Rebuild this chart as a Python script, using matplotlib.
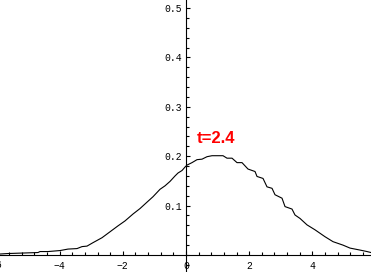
import matplotlib
matplotlib.use("Agg")
import matplotlib.pyplot as plt
from matplotlib.ticker import MultipleLocator, FixedLocator

# curve
xs = [-5.886, -5.633, -4.684, -4.620, -4.367, -3.987, -3.734, -3.449, -3.291, -3.133,
      -2.943, -2.658, -2.405, -2.152, -1.930, -1.677, -1.456, -1.234, -1.044, -0.823,
      -0.665, -0.506, -0.348, -0.253, -0.127, -0.032, 0.032, 0.190, 0.348, 0.506,
      0.665, 0.823, 1.013, 1.171, 1.297, 1.456, 1.614, 1.772, 1.962, 2.184,
      2.247, 2.437, 2.563, 2.722, 2.816, 3.038, 3.133, 3.354, 3.449, 3.608,
      3.829, 4.082, 4.399, 4.652, 4.968, 5.190, 5.506, 5.728, 5.854]
ys = [0.002, 0.003, 0.005, 0.007, 0.007, 0.009, 0.012, 0.013, 0.017, 0.018,
      0.025, 0.035, 0.047, 0.059, 0.069, 0.083, 0.094, 0.107, 0.118, 0.133,
      0.140, 0.149, 0.160, 0.166, 0.171, 0.178, 0.182, 0.187, 0.193, 0.194,
      0.199, 0.201, 0.201, 0.201, 0.196, 0.196, 0.187, 0.187, 0.174, 0.169,
      0.159, 0.155, 0.138, 0.135, 0.122, 0.115, 0.098, 0.093, 0.081, 0.074,
      0.061, 0.051, 0.037, 0.027, 0.020, 0.014, 0.010, 0.007, 0.005]

x_ticks = [-4, -2, 0, 2, 4]
x_labels = ["\u22124", "\u22122", "0", "2", "4"]
y_ticks = [0.1, 0.2, 0.3, 0.4, 0.5]
y_labels = ["0.1", "0.2", "0.3", "0.4", "0.5"]
label = "t=2.4"

mono = "Liberation Mono"

fig = plt.figure(figsize=(3.71, 2.72), dpi=100)
ax = fig.add_axes([0, 0, 1, 1])
ax.plot(xs, ys, color="black", lw=0.8)

ax.set_xlim(-5.886, 5.854)
ax.set_ylim(-0.0344, 0.5162)

for s in ("top", "right"):
    ax.spines[s].set_visible(False)
ax.spines["left"].set_position(("data", 0))
ax.spines["bottom"].set_position(("data", 0))
ax.spines["left"].set_linewidth(0.8)
ax.spines["bottom"].set_linewidth(0.8)

ax.xaxis.set_major_locator(FixedLocator(x_ticks))
ax.xaxis.set_minor_locator(MultipleLocator(0.4))
ax.yaxis.set_major_locator(FixedLocator(y_ticks))
ax.yaxis.set_minor_locator(MultipleLocator(0.02))
ax.set_xticklabels(x_labels, family=mono, fontsize=7)
ax.set_yticklabels(y_labels, family=mono, fontsize=7)
ax.tick_params(which="both", direction="in", width=0.8)
ax.tick_params(which="major", length=3.2)
ax.tick_params(which="minor", length=2)
ax.tick_params(axis="x", pad=4)
ax.tick_params(axis="y", pad=3)

# the -6 label is cut by the left edge
ax.text(-6, -0.0105, "\u22126", family=mono, fontsize=7, ha="center", va="top", clip_on=False)

ax.text(0.95, 0.235, label, color="red", fontweight="bold", fontsize=12,
        family="Liberation Sans", ha="center", va="center")

fig.savefig("out.png", dpi=100)
